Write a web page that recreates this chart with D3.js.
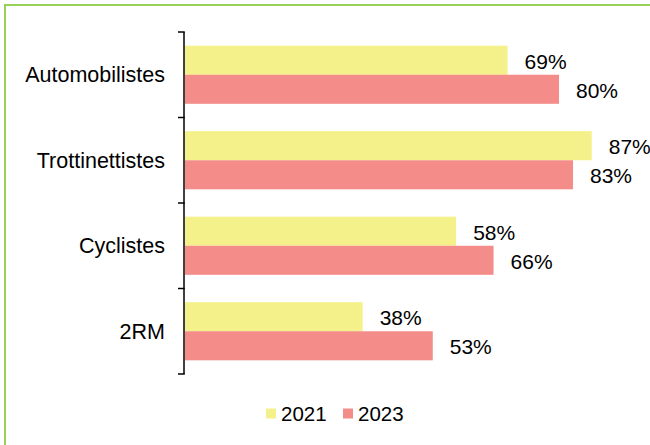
<!DOCTYPE html>
<html><head><meta charset="utf-8">
<script src="https://cdn.jsdelivr.net/npm/d3@7"></script>
<style>body{margin:0;background:#fff}svg{display:block}text{font-family:"Liberation Sans",Arial,sans-serif;fill:#000}</style>
</head><body>
<svg id="c" width="650" height="445"></svg>
<script>
const categories = ["Automobilistes", "Trottinettistes", "Cyclistes", "2RM"];
const series = ["2021", "2023"];
const values2021 = [69, 87, 58, 38];
const values2023 = [80, 83, 66, 53];
const colors = ["#F5F18A", "#F48D89"];

const svg = d3.select("#c");
// frame
svg.append("rect").attr("x", 5).attr("y", 5).attr("width", 700).attr("height", 500)
  .attr("fill", "none").attr("stroke", "#97D15A").attr("stroke-width", 2);

const x = d3.scaleLinear().domain([0, 100]).range([185, 652.5]);
const y = d3.scaleBand().domain(categories).range([32, 374]).paddingInner(0.32).paddingOuter(0.16);
const ys = d3.scaleBand().domain(series).range([0, y.bandwidth()]);

const data = [values2021, values2023];
const g = svg.append("g");
series.forEach((s, si) => {
  const vals = data[si];
  g.selectAll(".b" + si).data(categories).enter().append("rect")
    .attr("x", x(0)).attr("y", c => y(c) + ys(s))
    .attr("width", (c, i) => x(vals[i]) - x(0)).attr("height", ys.bandwidth())
    .attr("fill", colors[si]);
  g.selectAll(".l" + si).data(categories).enter().append("text")
    .attr("x", (c, i) => x(vals[i]) + 17).attr("y", c => y(c) + ys(s) + ys.bandwidth() / 2 + 3)
    .attr("dominant-baseline", "middle").attr("font-size", 21)
    .text((c, i) => vals[i] + "%");
});

// axis with boundary ticks
const yTicks = d3.scalePoint().domain(d3.range(categories.length + 1)).range([32, 374]);
const ax = svg.append("g");
ax.append("line").attr("x1", 184).attr("x2", 184).attr("y1", 32).attr("y2", 374)
  .attr("stroke", "#000").attr("stroke-width", 1.5);
ax.selectAll(".t").data(yTicks.domain()).enter().append("line")
  .attr("x1", 178).attr("x2", 184.75).attr("y1", d => yTicks(d)).attr("y2", d => yTicks(d))
  .attr("stroke", "#000").attr("stroke-width", 1.5);
ax.selectAll(".cl").data(categories).enter().append("text")
  .attr("x", 165).attr("y", c => yTicks(categories.indexOf(c)) + yTicks.step() / 2 + 2)
  .attr("text-anchor", "end").attr("dominant-baseline", "middle").attr("font-size", 21.5)
  .text(c => c);

// legend
const lg = svg.append("g");
const lx = [266, 343];
series.forEach((s, i) => {
  lg.append("rect").attr("x", lx[i]).attr("y", 408.5).attr("width", 10).attr("height", 10).attr("fill", colors[i]);
  lg.append("text").attr("x", lx[i] + 15).attr("y", 415.5).attr("dominant-baseline", "middle")
    .attr("font-size", 20.5).text(s);
});
</script>
</body></html>
